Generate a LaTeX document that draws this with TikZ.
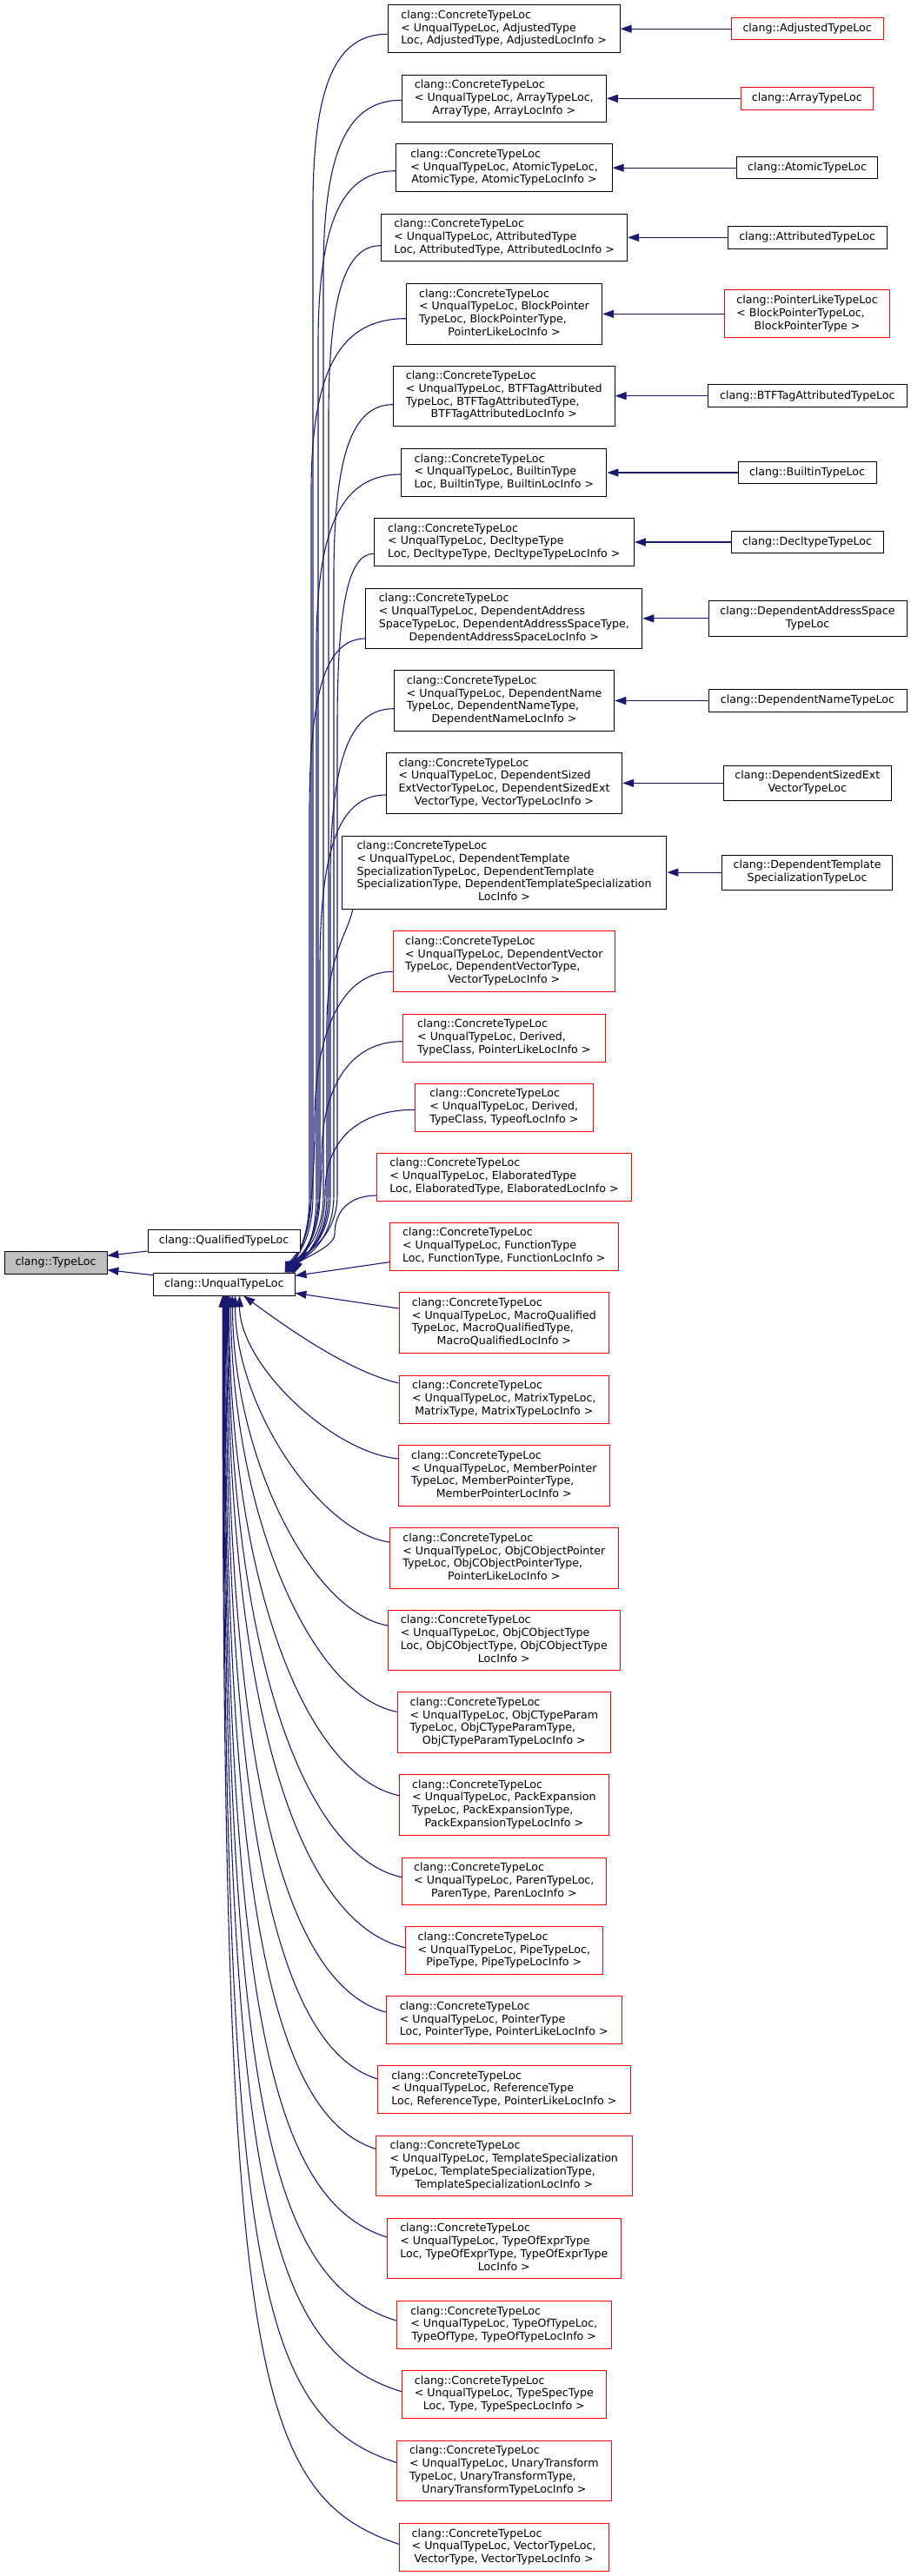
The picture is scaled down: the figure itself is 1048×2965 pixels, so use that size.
\documentclass[tikz,border=0pt]{standalone}
\usepackage{fontspec}
\setmainfont{DejaVu Sans}
\usetikzlibrary{arrows.meta,calc}
\definecolor{edgeblue}{HTML}{191970}
\definecolor{nodegrey}{HTML}{BFBFBF}
\pgfdeclarelayer{background}
\pgfsetlayers{background,main}
\newcommand\lns[1]{\begin{tabular}{@{}l@{}}#1\end{tabular}}
\newcommand\lastln[1]{\multicolumn{1}{@{}c@{}}{#1}}
\newcommand\ctl{clang::ConcreteTypeLoc}
% upper edge (long): node, entry yshift, strand x, tip xshift
\newcommand\upedge[4]{\draw[inh] let \p1=([yshift=#2pt]#1.west), \p2=([xshift=#4pt]u.north west) in (\p1) .. controls ({#3+0.3*(\x1-#3)},\y1) and (#3,{\y1-60}) .. (#3,{\y1-200}) -- (#3,{\y2+90}) .. controls (#3,{\y2+30}) and ({\x2+6},{\y2+15}) .. (\p2);}
% upper edge (near)
\newcommand\upnear[4]{\draw[inh] let \p1=([yshift=#2pt]#1.west), \p2=([xshift=#4pt]u.north west), \n1={\y1-\y2} in (\p1) .. controls ({#3+0.35*(\x1-#3)},\y1) and (#3,{\y1-0.2*\n1}) .. (#3,{\y1-0.5*\n1}) .. controls (#3,{\y2+30}) and ({\x2+6},{\y2+15}) .. (\p2);}
% lower edge: node, entry yshift, tip xshift, k
\newcommand\lowedge[4]{\draw[inh] let \p1=([yshift=#2pt]#1.west), \p2=([xshift=#3pt]u.south west), \n1={\x1-\x2}, \n2={\y2-\y1} in (\p1) .. controls ({\x1-#4*\n1},{\y1+0.04*\n2}) and (\x2,{\y2-#4*\n2}) .. (\p2);}
\tikzset{
  box/.style={draw, line width=0.9pt, fill=white, inner sep=0pt, text=black,
    font=\fontsize{12.6}{14.8}\selectfont},
  blk/.style={box, draw=black},
  rd/.style={box, draw=red},
  inh/.style={draw=edgeblue, line width=1.1pt, -{Triangle[length=13pt,width=9pt]}},
}
\begin{document}
\begin{tikzpicture}[x=1pt,y=1pt]
\begin{pgfonlayer}{background}
\fill[white] (0,0) rectangle (1048,-2965);
\end{pgfonlayer}
\useasboundingbox (0,0) rectangle (1048,-2965);

% left nodes
\node[blk, fill=nodegrey, minimum width=118pt, minimum height=26pt] (t) at (64,-1453) {clang::TypeLoc};
\node[blk, minimum width=175pt, minimum height=26pt] (q) at (257.5,-1428) {clang::QualifiedTypeLoc};
\node[blk, minimum width=162.3pt, minimum height=25.3pt] (u) at (257.85,-1478.35) {clang::UnqualTypeLoc};

% concrete nodes
\node[blk, minimum width=267.2pt, minimum height=55pt] (c1) at (579.6,-33.2) {\lns{\ctl\\< UnqualTypeLoc, AdjustedType\\\lastln{Loc, AdjustedType, AdjustedLocInfo >}}};
\node[blk, minimum width=235.2pt, minimum height=54.7pt] (c2) at (579.8,-113.35) {\lns{\ctl\\< UnqualTypeLoc, ArrayTypeLoc,\\\lastln{ArrayType, ArrayLocInfo >}}};
\node[blk, minimum width=248.4pt, minimum height=55pt] (c3) at (580,-193.2) {\lns{\ctl\\< UnqualTypeLoc, AtomicTypeLoc,\\\lastln{AtomicType, AtomicTypeLocInfo >}}};
\node[blk, minimum width=283.3pt, minimum height=54.7pt] (c4) at (580.05,-273.35) {\lns{\ctl\\< UnqualTypeLoc, AttributedType\\\lastln{Loc, AttributedType, AttributedLocInfo >}}};
\node[blk, minimum width=225.4pt, minimum height=69.3pt] (c5) at (580,-361.35) {\lns{\ctl\\< UnqualTypeLoc, BlockPointer\\TypeLoc, BlockPointerType,\\\lastln{PointerLikeLocInfo >}}};
\node[blk, minimum width=254.8pt, minimum height=69.3pt] (c6) at (579.8,-455.65) {\lns{\ctl\\< UnqualTypeLoc, BTFTagAttributed\\TypeLoc, BTFTagAttributedType,\\\lastln{BTFTagAttributedLocInfo >}}};
\node[blk, minimum width=236.1pt, minimum height=54.6pt] (c7) at (579.85,-544) {\lns{\ctl\\< UnqualTypeLoc, BuiltinType\\\lastln{Loc, BuiltinType, BuiltinLocInfo >}}};
\node[blk, minimum width=299.1pt, minimum height=54.6pt] (c8) at (579.85,-624) {\lns{\ctl\\< UnqualTypeLoc, DecltypeType\\\lastln{Loc, DecltypeType, DecltypeTypeLocInfo >}}};
\node[blk, minimum width=317.9pt, minimum height=69.7pt] (c9) at (579.85,-711.85) {\lns{\ctl\\< UnqualTypeLoc, DependentAddress\\SpaceTypeLoc, DependentAddressSpaceType,\\\lastln{DependentAddressSpaceLocInfo >}}};
\node[blk, minimum width=253.5pt, minimum height=69.6pt] (c10) at (580.05,-806.5) {\lns{\ctl\\< UnqualTypeLoc, DependentName\\TypeLoc, DependentNameType,\\\lastln{DependentNameLocInfo >}}};
\node[blk, minimum width=271.4pt, minimum height=69.3pt] (c11) at (580,-901.35) {\lns{\ctl\\< UnqualTypeLoc, DependentSized\\ExtVectorTypeLoc, DependentSizedExt\\\lastln{VectorType, VectorTypeLocInfo >}}};
\node[blk, minimum width=373.7pt, minimum height=84.3pt] (c12) at (580.05,-1004.15) {\lns{\ctl\\< UnqualTypeLoc, DependentTemplate\\SpecializationTypeLoc, DependentTemplate\\SpecializationType, DependentTemplateSpecialization\\\lastln{LocInfo >}}};
\node[rd, minimum width=254.8pt, minimum height=69.6pt] (c13) at (579.8,-1106.5) {\lns{\ctl\\< UnqualTypeLoc, DependentVector\\TypeLoc, DependentVectorType,\\\lastln{VectorTypeLocInfo >}}};
\node[rd, minimum width=233.7pt, minimum height=55pt] (c14) at (579.85,-1194.5) {\lns{\ctl\\< UnqualTypeLoc, Derived,\\\lastln{TypeClass, PointerLikeLocInfo >}}};
\node[rd, minimum width=205pt, minimum height=55.3pt] (c15) at (579.8,-1274.65) {\lns{\ctl\\< UnqualTypeLoc, Derived,\\\lastln{TypeClass, TypeofLocInfo >}}};
\node[rd, minimum width=292.6pt, minimum height=55.3pt] (c16) at (580,-1354.65) {\lns{\ctl\\< UnqualTypeLoc, ElaboratedType\\\lastln{Loc, ElaboratedType, ElaboratedLocInfo >}}};
\node[rd, minimum width=263pt, minimum height=55pt] (c17) at (579.8,-1434.8) {\lns{\ctl\\< UnqualTypeLoc, FunctionType\\\lastln{Loc, FunctionType, FunctionLocInfo >}}};
\node[rd, minimum width=241.7pt, minimum height=69.6pt] (c18) at (579.85,-1522.5) {\lns{\ctl\\< UnqualTypeLoc, MacroQualified\\TypeLoc, MacroQualifiedType,\\\lastln{MacroQualifiedLocInfo >}}};
\node[rd, minimum width=241.7pt, minimum height=54.7pt] (c19) at (579.85,-1610.65) {\lns{\ctl\\< UnqualTypeLoc, MatrixTypeLoc,\\\lastln{MatrixType, MatrixTypeLocInfo >}}};
\node[rd, minimum width=243pt, minimum height=69.6pt] (c20) at (579.8,-1698.5) {\lns{\ctl\\< UnqualTypeLoc, MemberPointer\\TypeLoc, MemberPointerType,\\\lastln{MemberPointerLocInfo >}}};
\node[rd, minimum width=263pt, minimum height=69.6pt] (c21) at (579.8,-1793.5) {\lns{\ctl\\< UnqualTypeLoc, ObjCObjectPointer\\TypeLoc, ObjCObjectPointerType,\\\lastln{PointerLikeLocInfo >}}};
\node[rd, minimum width=267pt, minimum height=69.4pt] (c22) at (579.8,-1888) {\lns{\ctl\\< UnqualTypeLoc, ObjCObjectType\\Loc, ObjCObjectType, ObjCObjectType\\\lastln{LocInfo >}}};
\node[rd, minimum width=245.7pt, minimum height=69.6pt] (c23) at (579.85,-1982.5) {\lns{\ctl\\< UnqualTypeLoc, ObjCTypeParam\\TypeLoc, ObjCTypeParamType,\\\lastln{ObjCTypeParamTypeLocInfo >}}};
\node[rd, minimum width=240.3pt, minimum height=69.3pt] (c24) at (579.85,-2077.35) {\lns{\ctl\\< UnqualTypeLoc, PackExpansion\\TypeLoc, PackExpansionType,\\\lastln{PackExpansionTypeLocInfo >}}};
\node[rd, minimum width=235pt, minimum height=54.7pt] (c25) at (579.8,-2165.35) {\lns{\ctl\\< UnqualTypeLoc, ParenTypeLoc,\\\lastln{ParenType, ParenLocInfo >}}};
\node[rd, minimum width=227pt, minimum height=55pt] (c26) at (579.8,-2245.2) {\lns{\ctl\\< UnqualTypeLoc, PipeTypeLoc,\\\lastln{PipeType, PipeTypeLocInfo >}}};
\node[rd, minimum width=270.7pt, minimum height=55pt] (c27) at (579.65,-2325.2) {\lns{\ctl\\< UnqualTypeLoc, PointerType\\\lastln{Loc, PointerType, PointerLikeLocInfo >}}};
\node[rd, minimum width=291pt, minimum height=54.6pt] (c28) at (579.8,-2405) {\lns{\ctl\\< UnqualTypeLoc, ReferenceType\\\lastln{Loc, ReferenceType, PointerLikeLocInfo >}}};
\node[rd, minimum width=295pt, minimum height=69pt] (c29) at (579.8,-2493.2) {\lns{\ctl\\< UnqualTypeLoc, TemplateSpecialization\\TypeLoc, TemplateSpecializationType,\\\lastln{TemplateSpecializationLocInfo >}}};
\node[rd, minimum width=268.3pt, minimum height=69.7pt] (c30) at (579.85,-2587.85) {\lns{\ctl\\< UnqualTypeLoc, TypeOfExprType\\Loc, TypeOfExprType, TypeOfExprType\\\lastln{LocInfo >}}};
\node[rd, minimum width=247pt, minimum height=54.6pt] (c31) at (579.8,-2676) {\lns{\ctl\\< UnqualTypeLoc, TypeOfTypeLoc,\\\lastln{TypeOfType, TypeOfTypeLocInfo >}}};
\node[rd, minimum width=235pt, minimum height=54.6pt] (c32) at (579.8,-2756) {\lns{\ctl\\< UnqualTypeLoc, TypeSpecType\\\lastln{Loc, Type, TypeSpecLocInfo >}}};
\node[rd, minimum width=247pt, minimum height=69.7pt] (c33) at (579.8,-2843.85) {\lns{\ctl\\< UnqualTypeLoc, UnaryTransform\\TypeLoc, UnaryTransformType,\\\lastln{UnaryTransformTypeLocInfo >}}};
\node[rd, minimum width=240.7pt, minimum height=54.6pt] (c34) at (579.65,-2932) {\lns{\ctl\\< UnqualTypeLoc, VectorTypeLoc,\\\lastln{VectorType, VectorTypeLocInfo >}}};

% right nodes
\node[rd, minimum width=175pt, minimum height=25.3pt] (r1) at (928.6,-33.2) {clang::AdjustedTypeLoc};
\node[rd, minimum width=152.5pt, minimum height=25.7pt] (r2) at (928.35,-113.35) {clang::ArrayTypeLoc};
\node[blk, minimum width=162.3pt, minimum height=25.3pt] (r3) at (928.55,-193.2) {clang::AtomicTypeLoc};
\node[blk, minimum width=182.8pt, minimum height=25.3pt] (r4) at (928.6,-273.35) {clang::AttributedTypeLoc};
\node[rd, minimum width=189.6pt, minimum height=55pt] (r5) at (928.6,-361.35) {\lns{clang::PointerLikeTypeLoc\\< BlockPointerTypeLoc,\\\lastln{BlockPointerType >}}};
\node[blk, minimum width=228.4pt, minimum height=25.7pt] (r6) at (928.8,-455.65) {clang::BTFTagAttributedTypeLoc};
\node[blk, minimum width=158.9pt, minimum height=25.7pt] (r7) at (928.55,-544) {clang::BuiltinTypeLoc};
\node[blk, minimum width=175.1pt, minimum height=25.7pt] (r8) at (928.55,-624) {clang::DecltypeTypeLoc};
\node[blk, minimum width=228pt, minimum height=40.6pt] (r9) at (929,-711.85) {\lns{clang::DependentAddressSpace\\\lastln{TypeLoc}}};
\node[blk, minimum width=228pt, minimum height=25.3pt] (r10) at (929,-806.5) {clang::DependentNameTypeLoc};
\node[blk, minimum width=192.6pt, minimum height=40.3pt] (r11) at (928.8,-901.35) {\lns{clang::DependentSizedExt\\\lastln{VectorTypeLoc}}};
\node[blk, minimum width=196.4pt, minimum height=40.3pt] (r12) at (928.6,-1004.15) {\lns{clang::DependentTemplate\\\lastln{SpecializationTypeLoc}}};

\begin{pgfonlayer}{background}
% edges to TypeLoc
\draw[inh] ([yshift=-12pt]q.west) -- ([yshift=7.7pt]t.east);
\draw[inh] ([yshift=10.65pt]u.west) -- ([yshift=-8.7pt]t.east);

% right column edges
\foreach \i in {1,...,12} { \draw[inh] (r\i.west) -- (c\i.east); }

% upper edges to UnqualTypeLoc
\upedge{c1}{-6.1}{360}{153.3}
\upedge{c2}{-1.95}{372}{155.3}
\upedge{c3}{-3.5}{366}{157.3}
\upedge{c4}{-9.35}{378}{159.3}
\upedge{c5}{-5.35}{358}{151.3}
\upedge{c6}{-10.05}{384}{161.3}
\upedge{c7}{-2}{364}{162.3}
\upedge{c8}{-13.3}{388}{152.3}
\upedge{c9}{-23.15}{356}{154.3}
\upedge{c10}{-9.2}{380}{158.3}
\upedge{c11}{-13.65}{368}{156.3}
\draw[inh] ([xshift=13pt]c12.south west) .. controls (400,-1075) and (376,-1100) .. (376,-1180) -- (376,-1376) .. controls (376,-1436) and (343,-1451) .. ([xshift=160.3pt]u.north west);
\upnear{c13}{-11.8}{362}{155.8}
\upnear{c14}{-4.2}{370}{159.8}
\upnear{c15}{-2.65}{374}{161.8}
\upnear{c16}{-21.35}{385}{162.3}

% side edges
\draw[inh] ([yshift=-17.9pt]c17.west) -- ([yshift=10pt]u.east);
\draw[inh] ([yshift=16.5pt]c18.west) -- ([yshift=-10pt]u.east);
\draw[inh] ([yshift=18.65pt]c19.west) .. controls (400,-1578) and (330,-1528) .. ([xshift=104pt]u.south west);

% lower edges
\lowedge{c20}{19.5}{99.3}{0.42}
\lowedge{c21}{18.5}{94.3}{0.45}
\lowedge{c22}{17}{91.3}{0.49}
\lowedge{c23}{12.2}{89.3}{0.52}
\lowedge{c24}{10.65}{87.3}{0.56}
\lowedge{c25}{4.65}{86.3}{0.59}
\lowedge{c26}{3.5}{85.3}{0.62}
\lowedge{c27}{9.2}{84.3}{0.65}
\lowedge{c28}{12.3}{83.3}{0.67}
\lowedge{c29}{19.9}{82.3}{0.70}
\lowedge{c30}{12.85}{81.8}{0.74}
\lowedge{c31}{5}{81.3}{0.77}
\lowedge{c32}{3.3}{80.8}{0.80}
\lowedge{c33}{9.55}{80.3}{0.83}
\lowedge{c34}{3.7}{79.8}{0.85}
\end{pgfonlayer}
\end{tikzpicture}
\end{document}
